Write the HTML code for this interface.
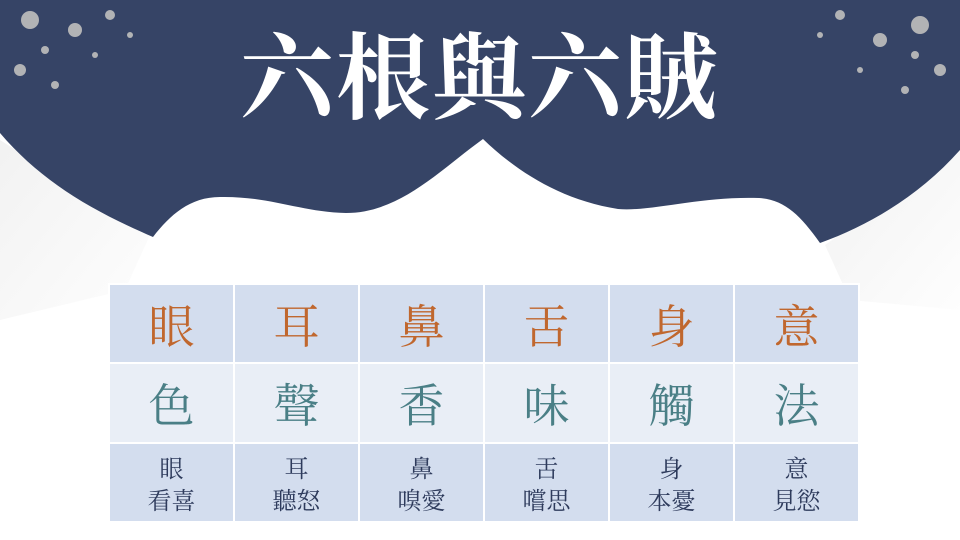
<!DOCTYPE html>
<html><head><meta charset="utf-8"><style>
html,body{margin:0;padding:0;width:960px;height:540px;overflow:hidden;background:#fff}
#s{position:relative;width:960px;height:540px;font-family:"Liberation Serif","Noto Serif CJK SC","Noto Serif CJK TC",serif}
svg{position:absolute;left:0;top:0}
#title{position:absolute;left:0;top:25px;width:960px;text-align:center;color:#fff;font-size:94px;font-weight:bold;line-height:110px;letter-spacing:2px}
table{position:absolute;left:108px;top:283px;border-collapse:collapse}
td{width:123px;text-align:center;border:2px solid #fff;padding:0;font-family:"Noto Serif CJK TC","Noto Serif CJK SC",serif}
.r1 td{height:77px;background:#d3ddee;color:#c0672e;font-size:46px}
.r2 td{height:78px;background:#e9eef6;color:#4a7f86;font-size:46px}
.r3 td{height:77px;background:#d3ddee;color:#2e3b5c;font-size:24px;line-height:32px}
</style></head><body>
<div id="s">
<svg width="960" height="540">
<defs><linearGradient id="g" x1="0" y1="0" x2="1" y2="1"><stop offset="0" stop-color="#ececec"/><stop offset="1" stop-color="#fdfdfd"/></linearGradient></defs>
<rect width="960" height="540" fill="#fff"/>
<path d="M0,140 L150,235 L125,290 L0,320 Z" fill="url(#g)" opacity="0.7"/>
<path d="M960,150 L825,245 L850,300 L960,310 Z" fill="url(#g)" opacity="0.7"/>
<path d="M0,0 H960 V150 C920,195 870,225 820,243 C800,215 785,200 759,198 C700,196 650,212 618,209 C560,200 515,170 483,139 C440,170 400,213 346,213 C300,212 270,196 220,197 C190,197 170,215 153,237 C90,210 40,180 0,133 Z" fill="#364466"/>
<g fill="#dcd9d0" opacity="0.75">
<circle cx="30" cy="20" r="9"/><circle cx="75" cy="30" r="7"/><circle cx="20" cy="70" r="6"/><circle cx="110" cy="15" r="5"/><circle cx="55" cy="85" r="4"/><circle cx="45" cy="50" r="4"/><circle cx="95" cy="55" r="3"/><circle cx="130" cy="35" r="3"/>
</g>
<g fill="#dcd9d0" opacity="0.75">
<circle cx="920" cy="25" r="9"/><circle cx="880" cy="40" r="7"/><circle cx="940" cy="70" r="6"/><circle cx="840" cy="15" r="5"/><circle cx="905" cy="90" r="4"/><circle cx="915" cy="55" r="4"/><circle cx="860" cy="70" r="3"/><circle cx="820" cy="35" r="3"/>
</g>
</svg>
<div id="title">六根與六賊</div>
<table>
<tr class="r1"><td>眼</td><td>耳</td><td>鼻</td><td>舌</td><td>身</td><td>意</td></tr>
<tr class="r2"><td>色</td><td>聲</td><td>香</td><td>味</td><td>觸</td><td>法</td></tr>
<tr class="r3"><td>眼<br>看喜</td><td>耳<br>聽怒</td><td>鼻<br>嗅愛</td><td>舌<br>嚐思</td><td>身<br>本憂</td><td>意<br>見慾</td></tr>
</table>
</div>
</body></html>
